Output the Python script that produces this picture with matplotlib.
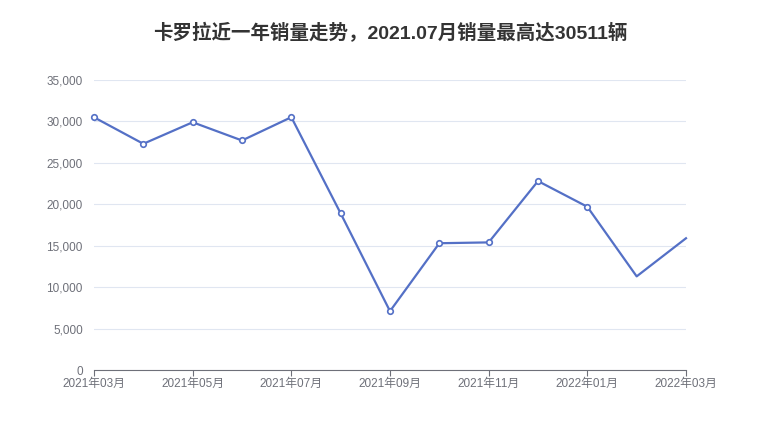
import matplotlib
matplotlib.use('Agg')
import matplotlib.pyplot as plt
from matplotlib.ticker import FuncFormatter

plt.rcParams['font.family'] = ['Liberation Sans', 'Noto Sans CJK SC', 'DejaVu Sans']

months = ['2021年03月', '2021年04月', '2021年05月', '2021年06月', '2021年07月',
          '2021年08月', '2021年09月', '2021年10月', '2021年11月', '2021年12月',
          '2022年01月', '2022年02月', '2022年03月']
sales = [30500, 27300, 29900, 27700, 30511, 18900, 7100, 15300, 15400,
         22800, 19700, 11300, 15900]
title = '卡罗拉近一年销量走势，2021.07月销量最高达30511辆'

fig = plt.figure(figsize=(7.8, 4.4), dpi=100)
ax = fig.add_axes([94 / 780, 70 / 440, 592 / 780, 290 / 440])

x = list(range(len(months)))
ax.plot(x, sales, color='#5470c6', linewidth=1.6, marker='o', markersize=4,
        markerfacecolor='white', markeredgecolor='#5470c6', markeredgewidth=1.2,
        markevery=list(range(11)), zorder=3, clip_on=False)

ax.set_xlim(0, len(months) - 1)
ax.set_ylim(0, 35000)
ax.set_yticks(range(0, 35001, 5000))
ax.yaxis.set_major_formatter(FuncFormatter(lambda v, p: '{:,}'.format(int(v))))
ax.set_xticks(x[::2])
ax.set_xticklabels(months[::2])

ax.grid(axis='y', color='#e0e6f1', linewidth=0.8)
ax.set_axisbelow(True)
for s in ['top', 'right', 'left']:
    ax.spines[s].set_visible(False)
ax.spines['bottom'].set_color('#6e7079')
ax.tick_params(axis='y', length=0, labelsize=8.5, labelcolor='#6e7079', pad=8)
ax.tick_params(axis='x', length=4, color='#6e7079', labelsize=8.5,
               labelcolor='#6e7079', pad=2)

fig.text(0.5, 1 - 33 / 440, title, ha='center', va='center', fontsize=14,
         fontweight='bold', color='#333333')

fig.savefig('out.png', dpi=100)
plt.close()
